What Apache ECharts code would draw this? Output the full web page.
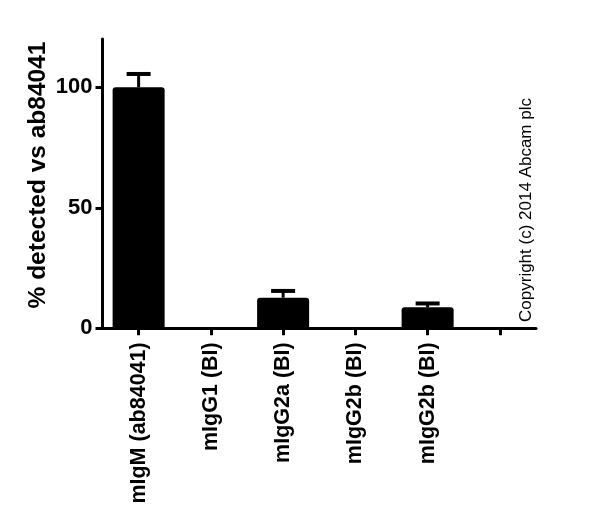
<!DOCTYPE html>
<html>
<head>
<meta charset="utf-8">
<script src="https://cdn.jsdelivr.net/npm/echarts@6/dist/echarts.min.js"></script>
<style>html,body{margin:0;padding:0;background:#fff;}#c{width:600px;height:517px;}</style>
</head>
<body>
<div id="c"></div>
<script>
const categories = ['mIgM (ab84041)', 'mIgG1 (BI)', 'mIgG2a (BI)', 'mIgG2b (BI)', 'mIgG2b (BI)', ''];
const means = [100, 0, 12.7, 0, 8.7, null];
const errors = [5.5, 0, 2.8, 0, 1.6, null];
const yTicks = [0, 50, 100];
const yName = '% detected vs ab84041';
const copyright = 'Copyright (c) 2014 Abcam plc';

const FONT = "'Liberation Sans', Arial, sans-serif";
const errData = means.map((m, i) => [i, m, errors[i]]).filter(d => d[1] !== null && d[2] > 0);

const chart = echarts.init(document.getElementById('c'));
chart.setOption({
  animation: false,
  backgroundColor: '#fff',
  grid: { left: 102.5, right: 64, top: 39, bottom: 188.7, containLabel: false },
  xAxis: {
    type: 'category',
    data: categories,
    boundaryGap: true,
    axisLine: { lineStyle: { color: '#000', width: 3 } },
    axisTick: { show: true, alignWithLabel: true, interval: 0, length: 7, lineStyle: { color: '#000', width: 3 } },
    axisLabel: { rotate: 90, margin: 14, color: '#000', fontSize: 21.5, fontWeight: 'bold', fontFamily: FONT, interval: 0 },
    splitLine: { show: false }
  },
  yAxis: {
    type: 'value',
    min: 0, max: 120, interval: 50,
    axisLine: { show: true, lineStyle: { color: '#000', width: 3 } },
    axisTick: { show: true, length: 7, customValues: yTicks, lineStyle: { color: '#000', width: 3 } },
    axisLabel: { customValues: yTicks, margin: 10, color: '#000', fontSize: 22, fontWeight: 'bold', fontFamily: FONT },
    splitLine: { show: false }
  },
  series: [
    {
      type: 'bar',
      data: means,
      barWidth: '72%',
      itemStyle: { color: '#000', borderRadius: [3, 3, 0, 0] },
      z: 2
    },
    {
      type: 'custom',
      data: errData,
      z: 3,
      renderItem: function (params, api) {
        const i = api.value(0), m = api.value(1), e = api.value(2);
        const base = api.coord([i, m]);
        const top = api.coord([i, m + e]);
        const hw = 12;
        return {
          type: 'group',
          children: [
            { type: 'line', shape: { x1: base[0], y1: base[1], x2: top[0], y2: top[1] }, style: { stroke: '#000', lineWidth: 3 } },
            { type: 'line', shape: { x1: top[0] - hw, y1: top[1], x2: top[0] + hw, y2: top[1] }, style: { stroke: '#000', lineWidth: 4 } }
          ]
        };
      }
    }
  ],
  graphic: [
    {
      type: 'text',
      x: 38, y: 175,
      rotation: Math.PI / 2,
      style: { text: yName, fill: '#000', font: "bold 24.5px 'Liberation Sans', Arial, sans-serif", align: 'center', verticalAlign: 'middle' }
    },
    {
      type: 'text',
      x: 526, y: 210,
      rotation: Math.PI / 2,
      style: { text: copyright, fill: '#000', font: "17px 'Liberation Sans', Arial, sans-serif", align: 'center', verticalAlign: 'middle' }
    }
  ]
});
</script>
</body>
</html>
